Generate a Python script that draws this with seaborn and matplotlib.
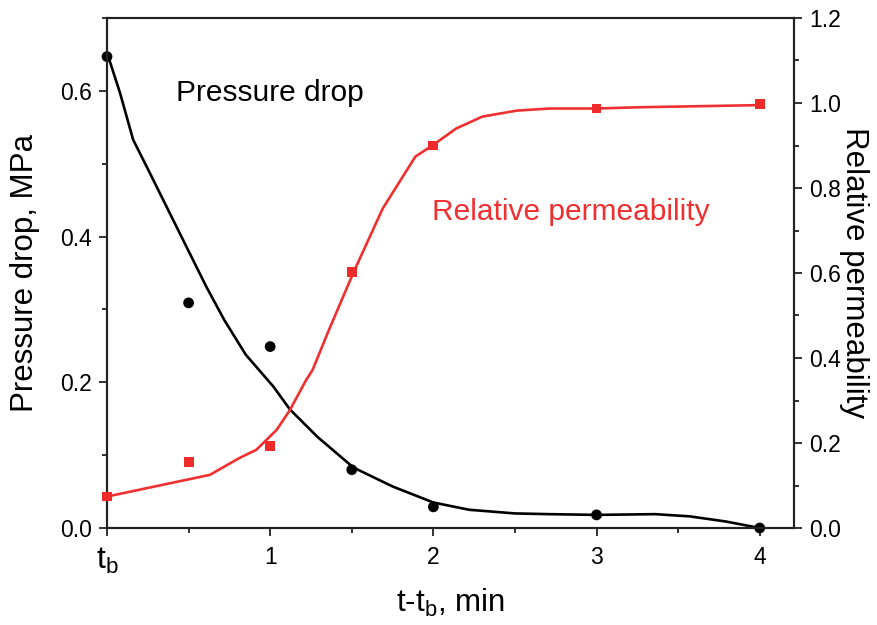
import matplotlib
matplotlib.use("Agg")
import matplotlib.pyplot as plt
from matplotlib.ticker import MultipleLocator, FixedLocator
import seaborn as sns
import pandas as pd

# ---- data ----
dp_t = [0, 0.5, 1, 1.5, 2, 3, 4]
dp_val = [0.647, 0.309, 0.249, 0.080, 0.029, 0.018, 0.0]

dp_fit_t = [0.0, 0.008, 0.08, 0.16, 0.263, 0.365, 0.487, 0.609, 0.72, 0.85, 1.02, 1.12, 1.29,
            1.51, 1.75, 2.0, 2.22, 2.5, 2.71, 3.0, 3.36, 3.57, 3.79, 4.0]
dp_fit_val = [0.652, 0.647, 0.597, 0.533, 0.487, 0.441, 0.386, 0.331, 0.285, 0.238, 0.194, 0.163,
              0.125, 0.083, 0.057, 0.035, 0.025, 0.020, 0.019, 0.018, 0.019, 0.016, 0.009, 0.0]

kr_t = [0, 0.5, 1, 1.5, 2, 3, 4]
kr_val = [0.074, 0.156, 0.193, 0.603, 0.90, 0.987, 0.998]

kr_fit_t = [0.0, 0.63, 0.813, 0.915, 1.04, 1.12, 1.22, 1.26, 1.36, 1.51, 1.69, 1.89,
            1.99, 2.14, 2.30, 2.51, 2.71, 3.0, 3.26, 4.0]
kr_fit_val = [0.074, 0.125, 0.165, 0.184, 0.231, 0.277, 0.348, 0.372, 0.466, 0.601, 0.752, 0.874,
              0.899, 0.940, 0.968, 0.982, 0.987, 0.987, 0.99, 0.995]

x_ticks = [0, 1, 2, 3, 4]
x_tick_labels = ["$\\mathregular{t_b}$", "1", "2", "3", "4"]
left_ticks = [0.0, 0.2, 0.4, 0.6]
right_ticks = [0.0, 0.2, 0.4, 0.6, 0.8, 1.0, 1.2]

sns.set_style("ticks")
plt.rcParams["font.family"] = ["Liberation Sans", "DejaVu Sans"]
plt.rcParams["mathtext.fontset"] = "custom"
plt.rcParams["mathtext.rm"] = "Liberation Sans"
plt.rcParams["mathtext.it"] = "Liberation Sans:italic"
plt.rcParams["mathtext.default"] = "regular"
plt.rcParams["text.color"] = "black"
plt.rcParams["axes.labelcolor"] = "black"

fig = plt.figure(figsize=(8.78, 6.25), dpi=100)
ax = fig.add_axes([107/878, 1-528/625, (794-107)/878, (528-18)/625])
ax2 = ax.twinx()

dp_fit = pd.DataFrame({"t": dp_fit_t, "v": dp_fit_val})
dp_pts = pd.DataFrame({"t": dp_t, "v": dp_val})
kr_fit = pd.DataFrame({"t": kr_fit_t, "v": kr_fit_val})
kr_pts = pd.DataFrame({"t": kr_t, "v": kr_val})

sns.lineplot(data=dp_fit, x="t", y="v", ax=ax, color="black", linewidth=1.9, sort=False)
sns.scatterplot(data=dp_pts, x="t", y="v", ax=ax, color="black", s=60, marker="o",
                edgecolor="none", zorder=5, clip_on=False)
sns.lineplot(data=kr_fit, x="t", y="v", ax=ax2, color="#f03030", linewidth=1.9, sort=False)
sns.scatterplot(data=kr_pts, x="t", y="v", ax=ax2, color="#ee2a2a", s=50, marker="s",
                edgecolor="none", zorder=5, clip_on=False)

ax.set_xlim(0, 4.21)
ax.set_ylim(0, 0.70)
ax2.set_ylim(0, 1.2)

ax.xaxis.set_major_locator(FixedLocator(x_ticks))
ax.set_xticklabels(x_tick_labels)
ax.xaxis.set_minor_locator(MultipleLocator(0.5))
ax.set_yticks(left_ticks)
ax.set_yticklabels([f"{v:.1f}" for v in left_ticks])
ax.yaxis.set_minor_locator(MultipleLocator(0.1))
ax2.set_yticks(right_ticks)
ax2.set_yticklabels([f"{v:.1f}" for v in right_ticks])
ax2.yaxis.set_minor_locator(MultipleLocator(0.1))

for a in (ax, ax2):
    a.tick_params(which="major", direction="out", length=6, width=1.3, colors="#222222",
                  labelsize=16.5, labelcolor="black")
    a.tick_params(which="minor", direction="out", length=3.5, width=1.3, colors="#222222")
    for s in a.spines.values():
        s.set_linewidth(1.5)
        s.set_color("#222222")
        s.set_visible(True)

ax.tick_params(axis="x", pad=7)
ax.tick_params(axis="y", pad=5)
ax2.tick_params(axis="y", pad=5)
labs = ax.get_xticklabels()
labs[0].set_fontsize(23)

ax.set_xlabel("t-t$_\\mathregular{b}$, min", fontsize=22.5, labelpad=8, color="black")
ax.set_ylabel("Pressure drop, MPa", fontsize=22.5, labelpad=14, color="black")
ax2.set_ylabel("Relative permeability", fontsize=22.5, rotation=270, labelpad=20, color="black")

ax.text(0.42, 0.597, "Pressure drop", fontsize=21.5, color="black", va="center", ha="left")
ax2.text(1.99, 0.744, "Relative permeability", fontsize=21.5, color="#f03030",
         va="center", ha="left")

fig.savefig("out.png", dpi=100)
